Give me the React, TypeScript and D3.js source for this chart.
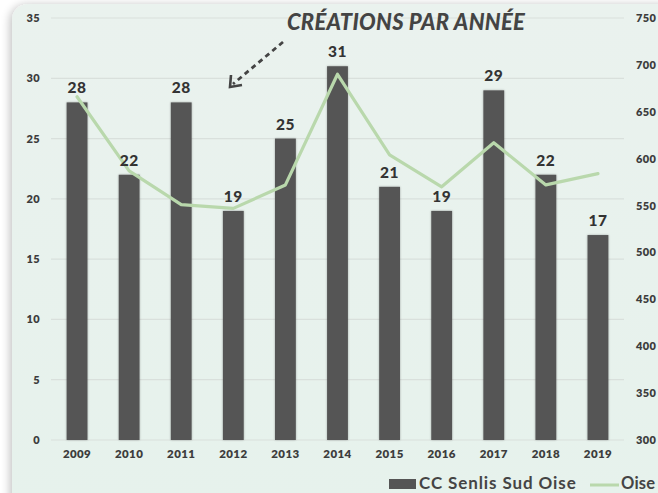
import React from "react";
import * as d3 from "d3";

const years = ["2009","2010","2011","2012","2013","2014","2015","2016","2017","2018","2019"];
const creations = [28, 22, 28, 19, 25, 31, 21, 19, 29, 22, 17];
const oise = [666, 587, 551, 547, 572, 690, 604, 570, 617, 572, 584];
const leftTicks = [0, 5, 10, 15, 20, 25, 30, 35];
const rightTicks = [300, 350, 400, 450, 500, 550, 600, 650, 700, 750];
const title = "CRÉATIONS PAR ANNÉE";
const seriesNames = ["CC Senlis Sud Oise", "Oise"];

export default function App() {
  const W = 658, H = 493;
  const x0 = 51, x1 = 624, yTop = 18, yBot = 440;
  const x = d3.scaleBand().domain(years).range([x0, x1]).paddingInner(0.6).paddingOuter(0.3);
  const yL = d3.scaleLinear().domain([0, 35]).range([yBot, yTop]);
  const yR = d3.scaleLinear().domain([300, 750]).range([yBot, yTop]);
  const cx = (d: string) => (x(d) as number) + x.bandwidth() / 2;
  const line = d3.line<number>().x((_, i) => cx(years[i])).y((v) => yR(v));
  const font = "Lato, 'Noto Sans', sans-serif";
  const bar = "#555555";
  const green = "#b9d8ac";
  return (
    <svg width={W} height={H} style={{ position: "absolute", left: 0, top: 0 }}>
      <defs>
        <linearGradient id="bg" x1="0" y1="0" x2="0" y2="1">
          <stop offset="0" stopColor="#eaf2ee" />
          <stop offset="1" stopColor="#e6f2ec" />
        </linearGradient>
        <filter id="sh" x="-10%" y="-10%" width="120%" height="120%">
          <feGaussianBlur in="SourceAlpha" stdDeviation="5" />
          <feOffset dx="-2" dy="1" />
          <feComponentTransfer><feFuncA type="linear" slope="0.25" /></feComponentTransfer>
          <feMerge><feMergeNode /><feMergeNode in="SourceGraphic" /></feMerge>
        </filter>
        <filter id="bs" x="-20%" y="-5%" width="140%" height="110%">
          <feGaussianBlur in="SourceAlpha" stdDeviation="1" />
          <feOffset dx="0" dy="0" />
          <feComponentTransfer><feFuncA type="linear" slope="0.3" /></feComponentTransfer>
          <feMerge><feMergeNode /><feMergeNode in="SourceGraphic" /></feMerge>
        </filter>
      </defs>
      <rect x={0} y={0} width={W} height={H} fill="#ffffff" />
      <rect x={12} y={4} width={W + 30} height={H + 30} rx={16} fill="url(#bg)" filter="url(#sh)" />
      {leftTicks.map((t) => (
        <line key={t} x1={x0} x2={x1} y1={yL(t)} y2={yL(t)} stroke="#d9e0dc" strokeWidth={1.2} />
      ))}
      {leftTicks.map((t) => (
        <text key={t} x={40} y={yL(t) + 4} textAnchor="end" fontFamily={font} fontWeight={800} fontSize={11} letterSpacing={0.4} fill="#3d3d3d">{t}</text>
      ))}
      {rightTicks.map((t) => (
        <text key={t} x={636} y={yR(t) + 4} textAnchor="start" fontFamily={font} fontWeight={800} fontSize={11} letterSpacing={0.4} fill="#3d3d3d">{t}</text>
      ))}
      {years.map((yr, i) => (
        <rect key={yr} x={x(yr)} y={yL(creations[i])} width={x.bandwidth()} height={yBot - yL(creations[i])} fill={bar} filter="url(#bs)" />
      ))}
      {years.map((yr) => (
        <text key={yr} x={cx(yr)} y={458} textAnchor="middle" fontFamily={font} fontWeight={800} fontSize={11.5} letterSpacing={0.4} fill="#3d3d3d">{yr}</text>
      ))}
      <path d={line(oise) || ""} fill="none" stroke={green} strokeWidth={3.2} strokeLinejoin="round" strokeLinecap="round" />
      {years.map((yr, i) => (
        <text key={yr} x={cx(yr)} y={yL(creations[i]) - 9} textAnchor="middle" fontFamily={font} fontWeight={900} fontSize={15.5} letterSpacing={0.5} fill="#333333">{creations[i]}</text>
      ))}
      <text x={406} y={30} textAnchor="middle" fontFamily={font} fontWeight={900} fontStyle="italic" fontSize={22} letterSpacing={0.3} fill="#444444">{title}</text>
      <line x1={283} y1={42} x2={233} y2={84} stroke="#444" strokeWidth={2.8} strokeDasharray="5,4" />
      <path d="M231,75 L230,87 L242,85" fill="none" stroke="#444" strokeWidth={2.6} strokeLinejoin="miter" />
      <rect x={389} y={479} width={27} height={10} fill={bar} />
      <text x={419} y={489} fontFamily={font} fontWeight={700} fontSize={17} letterSpacing={0.9} fill="#444444">{seriesNames[0]}</text>
      <line x1={590} x2={619} y1={485} y2={485} stroke={green} strokeWidth={3} />
      <text x={621} y={489} fontFamily={font} fontWeight={700} fontSize={16.5} letterSpacing={0.2} fill="#444444">{seriesNames[1]}</text>
    </svg>
  );
}
